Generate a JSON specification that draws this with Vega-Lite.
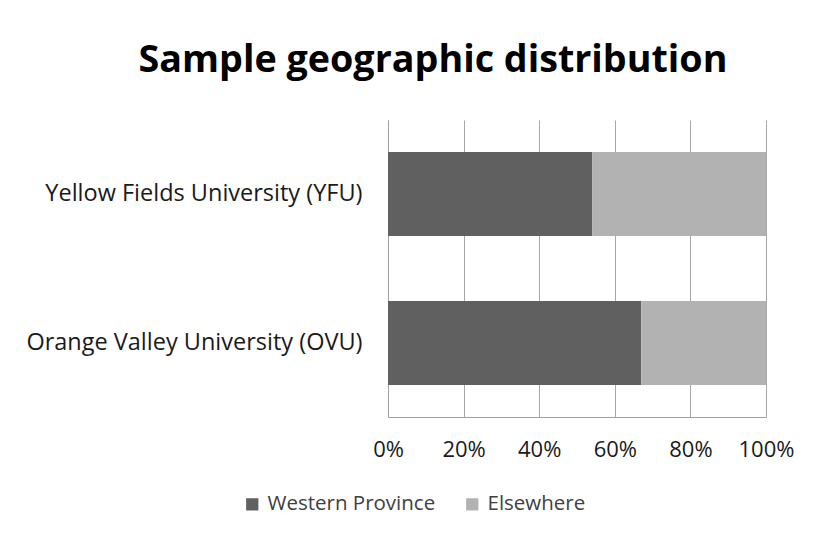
{
  "$schema": "https://vega.github.io/schema/vega-lite/v6.json",
  "width": 378,
  "height": 297,
  "autosize": {"type": "none"},
  "padding": {"left": 388, "top": 120, "right": 51, "bottom": 125},
  "background": "white",
  "title": {
    "text": "Sample geographic distribution",
    "font": "Open Sans",
    "fontSize": 37.7,
    "fontWeight": "bold",
    "color": "#000000",
    "anchor": "middle",
    "dx": -144,
    "offset": 40
  },
  "data": {
    "values": [
      {"university": "Yellow Fields University (YFU)", "region": "Western Province", "share": 54},
      {"university": "Yellow Fields University (YFU)", "region": "Elsewhere", "share": 46},
      {"university": "Orange Valley University (OVU)", "region": "Western Province", "share": 67},
      {"university": "Orange Valley University (OVU)", "region": "Elsewhere", "share": 33}
    ]
  },
  "mark": {"type": "bar"},
  "encoding": {
    "y": {
      "field": "university",
      "type": "nominal",
      "sort": ["Yellow Fields University (YFU)", "Orange Valley University (OVU)"],
      "scale": {"paddingInner": 0.436, "paddingOuter": 0.215},
      "axis": {
        "title": null,
        "ticks": false,
        "domain": true,
        "domainColor": "#a0a0a0",
        "domainWidth": 1,
        "labelFont": "Open Sans",
        "labelFontSize": 23.5,
        "labelColor": "#1a1a1a",
        "labelPadding": 26,
        "labelLimit": 400,
        "grid": false
      }
    },
    "x": {
      "field": "share",
      "type": "quantitative",
      "stack": "normalize",
      "scale": {"domain": [0, 1], "nice": false},
      "axis": {
        "title": null,
        "format": ".0%",
        "values": [0, 0.2, 0.4, 0.6, 0.8, 1],
        "ticks": false,
        "grid": true,
        "gridColor": "#a6a6a6",
        "gridWidth": 1,
        "domain": true,
        "domainColor": "#a0a0a0",
        "labelFont": "Open Sans",
        "labelFontSize": 22,
        "labelColor": "#1a1a1a",
        "labelPadding": 22,
        "labelFlush": false
      }
    },
    "color": {
      "field": "region",
      "type": "nominal",
      "scale": {"domain": ["Western Province", "Elsewhere"], "range": ["#606060", "#b2b2b2"]},
      "legend": {
        "title": null,
        "orient": "none",
        "direction": "horizontal",
        "legendX": -146,
        "legendY": 374,
        "symbolType": "square",
        "symbolSize": 150,
        "symbolStrokeWidth": 0,
        "labelFont": "Open Sans",
        "labelFontSize": 20.5,
        "labelColor": "#404040",
        "labelOffset": 5,
        "columnPadding": 26,
        "labelLimit": 300
      }
    },
    "order": {"field": "region", "sort": "descending"}
  },
  "config": {"view": {"stroke": null}}
}
